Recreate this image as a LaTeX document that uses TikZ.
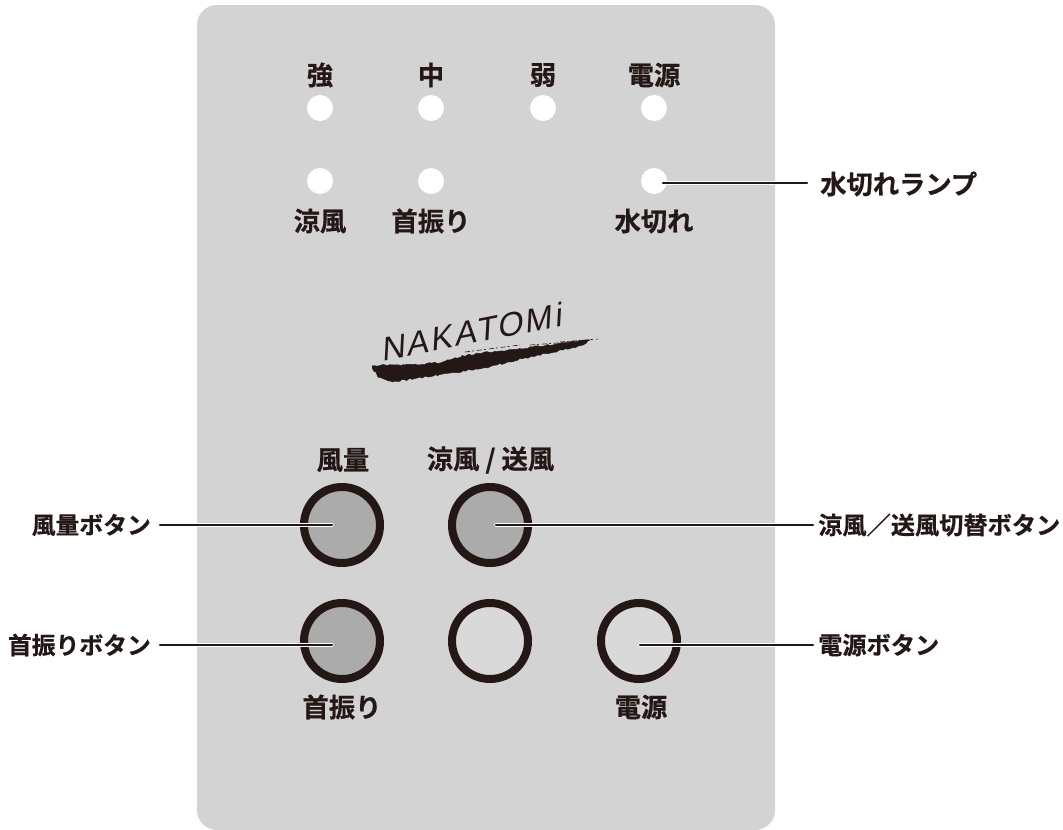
\documentclass[tikz,border=0pt]{standalone}
\usepackage{fontspec}
\usetikzlibrary{decorations.pathmorphing}
\setmainfont[FakeBold=0.6]{Noto Sans CJK JP Bold}
\newfontfamily\logofont[FakeSlant=0.25,LetterSpace=7]{Liberation Sans}
\definecolor{panel}{HTML}{D3D3D3}
\definecolor{ink}{HTML}{231815}
\definecolor{btn}{HTML}{ABABAB}
\definecolor{btnlight}{HTML}{D9D9D9}
\tikzset{
 lamp/.style={circle,fill=white,minimum size=26pt,inner sep=0pt},
 pushbtn/.style={circle,draw=ink,line width=8pt,minimum size=76pt,inner sep=0pt},
 dark/.style={pushbtn,fill=btn},
 light/.style={pushbtn,fill=btnlight},
 lab/.style={text=ink,font=\fontsize{26.3}{28}\selectfont,inner sep=0pt},
 lableft/.style={text=ink,font=\fontsize{23.8}{26}\selectfont,inner sep=0pt,anchor=east},
 labright/.style={text=ink,font=\fontsize{24.2}{26}\selectfont,inner sep=0pt,anchor=west},
 halo/.style={draw=white,line width=3.6pt,line cap=round},
 lead/.style={draw=ink,line width=2.4pt,line cap=round},
 brush/.style={fill=ink,draw=ink,line width=0.5pt,decorate,decoration={random steps,segment length=2.5pt,amplitude=0.9pt}},
 fiber/.style={draw=ink,line width=0.6pt,dash pattern=on 5pt off 2pt on 2pt off 3pt}
}
\pgfmathsetseed{7}
\begin{document}
\begin{tikzpicture}[x=1pt,y=-1pt]
\useasboundingbox (0,0) rectangle (1063,830);
\fill[panel,rounded corners=20pt] (197,5) rectangle (775,830);
\node[lab] at (320,75) {強};
\node[lab] at (431,75) {中};
\node[lab] at (543,75) {弱};
\node[lab] at (654,75) {電源};
\node[lamp] (l1) at (320,108) {};
\node[lamp] (l2) at (431,108) {};
\node[lamp] (l3) at (543,108) {};
\node[lamp] (l4) at (654,108) {};
\node[lamp] (l5) at (320,181) {};
\node[lamp] (l6) at (431,181) {};
\node[lamp] (l7) at (654,181) {};
\node[lab] at (320,221) {涼風};
\node[lab] at (431,221) {首振り};
\node[lab] at (654,221) {水切れ};
\node[lab] at (343,460) {風量};
\node[lab] at (490.5,460) {涼風\hspace{6pt}/\hspace{6pt}送風};
\node[lab] at (342,707) {首振り};
\node[lab] at (641,707) {電源};
\node[dark] (b1) at (342,525) {};
\node[dark] (b2) at (490,525) {};
\node[dark] (b3) at (342,641) {};
\node[light] (b4) at (490,641) {};
\node[light] (b5) at (639,641) {};
\node[lableft] (t1) at (151,525) {風量ボタン};
\node[lableft] (t2) at (151,645) {首振りボタン};
\node[text=ink,font=\fontsize{26.3}{28}\selectfont,inner sep=0pt,anchor=west] (t3) at (820,184) {水切れランプ};
\node[labright] (t4) at (818,525) {涼風／送風切替ボタン};
\node[labright] (t5) at (818,645) {電源ボタン};
\coordinate (e1) at (332,525);
\coordinate (e2) at (496,525);
\coordinate (e3) at (332,645);
\coordinate (e4) at (640,645);
\coordinate (e5) at (663,183);
\coordinate (s1) at (160,525);
\coordinate (s2) at (160,645);
\coordinate (s3) at (807,183);
\coordinate (s4) at (813,525);
\coordinate (s5) at (813,645);
\foreach \a/\b in {s1/e1,s2/e3,s3/e5,s4/e2,s5/e4}{\draw[halo] (\a) -- (\b);}
\foreach \a/\b in {s1/e1,s2/e3,s3/e5,s4/e2,s5/e4}{\draw[lead] (\a) -- (\b);}
% logo
\node[text=ink,inner sep=0pt,font=\logofont\fontsize{33}{33}\selectfont,rotate=11] at (470,332) {NAKATOMi};
\path[brush] (372,366) -- (393,365) -- (417,365) -- (443,362) -- (467,355) -- (500,351) -- (533,347) -- (563,343) -- (590,340) -- (583,345) -- (563,350) -- (537,355) -- (510,362) -- (483,368) -- (450,373) -- (417,378) -- (393,382) -- (378,377) -- cycle;
\draw[fiber] (560,342) -- (598,339);
\draw[fiber] (465,352) -- (520,345);
\draw[fiber] (530,345) -- (585,341);
\end{tikzpicture}
\end{document}
